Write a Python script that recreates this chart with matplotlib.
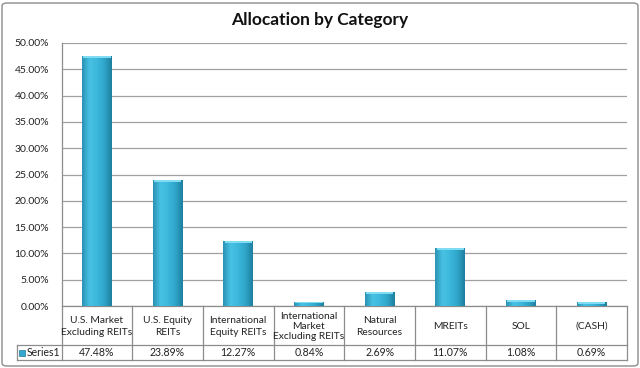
import matplotlib
matplotlib.use("Agg")
import matplotlib.pyplot as plt
import numpy as np
from matplotlib.colors import LinearSegmentedColormap
from matplotlib.patches import FancyBboxPatch, Rectangle
import matplotlib.transforms as mtransforms

plt.rcParams['font.family'] = ['Lato', 'DejaVu Sans']

categories = ["U.S. Market\nExcluding REITs", "U.S. Equity\nREITs", "International\nEquity REITs",
              "International\nMarket\nExcluding REITs", "Natural\nResources", "MREITs", "SOL", "(CASH)"]
values = [47.48, 23.89, 12.27, 0.84, 2.69, 11.07, 1.08, 0.69]
value_labels = ["47.48%", "23.89%", "12.27%", "0.84%", "2.69%", "11.07%", "1.08%", "0.69%"]
series_name = "Series1"
yticks = [0, 5, 10, 15, 20, 25, 30, 35, 40, 45, 50]

W, H = 640, 368
fig = plt.figure(figsize=(W / 100, H / 100), dpi=100)
fig.patch.set_facecolor("white")

# outer border
fig.patches.append(FancyBboxPatch((2 / W, 2 / H), 636 / W, 363 / H, boxstyle="round,pad=0,rounding_size=0.008",
                                  transform=fig.transFigure, fill=False, edgecolor="#8c8c8c", linewidth=1.0))

ax_l, ax_r, ax_t, ax_b = 61.5, 627, 43, 306
ax = fig.add_axes([ax_l / W, 1 - ax_b / H, (ax_r - ax_l) / W, (ax_b - ax_t) / H])

n = len(categories)
x = np.arange(n)
bw = 0.42
bars = ax.bar(x, values, width=bw, color="#35AACD", zorder=2)

cmap = LinearSegmentedColormap.from_list("cyl", ["#2a92b5", "#48c2e3", "#3cb8dc", "#2fa6ca", "#1f7f9f"])
grad = np.linspace(0, 1, 64).reshape(1, -1)
for b in bars:
    x0, w, h = b.get_x(), b.get_width(), b.get_height()
    im = ax.imshow(grad, extent=(x0, x0 + w, 0, h), aspect="auto", cmap=cmap, zorder=3, origin="lower")
    im.set_clip_path(b)
    # top cap
    cap_h = 0.35
    ax.add_patch(Rectangle((x0 + w * 0.04, h - cap_h), w * 0.92, cap_h, facecolor="#7fdcf2",
                           edgecolor="none", zorder=4))

ax.set_xlim(-0.5, n - 0.5)
ax.set_ylim(0, 50)
ax.set_yticks(yticks)
ax.set_yticklabels([f"{v:.2f}%" for v in yticks], fontsize=7.5, color="#222222")
ax.tick_params(axis="y", length=0, pad=9)
ax.set_xticks([])
ax.grid(axis="y", color="#a0a0a0", linewidth=0.9, zorder=0)
ax.set_axisbelow(True)
for s in ["top", "right", "bottom"]:
    ax.spines[s].set_visible(False)
ax.spines["left"].set_color("#8c8c8c")
ax.spines["left"].set_linewidth(0.9)

# data table
trans = mtransforms.blended_transform_factory(ax.transData, ax.transAxes)
axh = ax_b - ax_t
y_row1 = 0.0
y_row2 = -(345 - ax_b) / axh
y_row3 = -(360 - ax_b) / axh
y_cat_text = -(326.5 - ax_b) / axh
lc = "#8c8c8c"
lw = 0.9
left_cell = -0.5 - (ax_l - 17) / ((ax_r - ax_l) / n)
ax.plot([-0.5, n - 0.5], [y_row1, y_row1], color=lc, lw=lw, transform=trans, clip_on=False)
ax.plot([left_cell, n - 0.5], [y_row2, y_row2], color=lc, lw=lw, transform=trans, clip_on=False)
ax.plot([left_cell, n - 0.5], [y_row3, y_row3], color=lc, lw=lw, transform=trans, clip_on=False)
ax.plot([left_cell, left_cell], [y_row2, y_row3], color=lc, lw=lw, transform=trans, clip_on=False)
for i in range(n + 1):
    xb = i - 0.5
    ax.plot([xb, xb], [y_row1, y_row3], color=lc, lw=lw, transform=trans, clip_on=False)

for i in range(n):
    nlines = categories[i].count("\n") + 1
    ls = 1.4 if nlines == 2 else 1.12
    ax.text(x[i], y_cat_text, categories[i], ha="center", va="center", fontsize=7.4,
            color="#222222", transform=trans, linespacing=ls)
    ax.text(x[i], (y_row2 + y_row3) / 2, value_labels[i], ha="center", va="center", fontsize=7.6,
            color="#222222", transform=trans)

# legend key
ky = 1 - 352.5 / H
fig.patches.append(Rectangle((19 / W, ky - 3 / H), 6 / W, 6 / H, transform=fig.transFigure,
                             facecolor="#33A8CC", edgecolor="#1f7e9e", linewidth=0.5))
fig.text(27 / W, ky, series_name, ha="left", va="center", fontsize=7.6, color="#222222")

fig.text(0.5, 1 - 20 / H, "Allocation by Category", ha="center", va="center", fontsize=12.5,
         fontweight="bold", color="#111111")

fig.savefig("out.png", dpi=100)
